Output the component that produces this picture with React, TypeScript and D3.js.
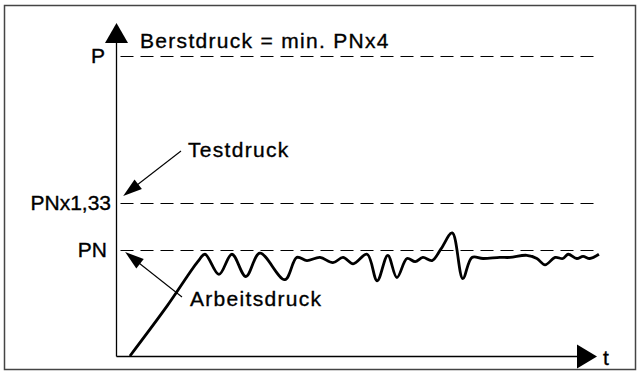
import * as d3 from 'd3';
import React from 'react';

// pressure levels (in multiples of PN)
const levelLabels = ['P', 'PNx1,33', 'PN'];
const levelValues = [4, 1.33, 1];

// pressure curve over time (t in % of the time axis, p in multiples of PN)
const timePoints = [
  2.9, 10.6, 17.0, 18.5, 21.4, 24.1, 27.0, 29.9, 35.1, 37.6, 39.7, 42.4, 45.1,
  47.2, 49.3, 52.2, 54.3, 56.5, 58.4, 60.5, 62.2, 63.8, 65.7, 67.6, 69.9, 72.1,
  74.0, 76.3, 79.8, 81.9, 85.4, 87.5, 89.2, 91.3, 92.9, 94.0, 95.8, 97.1, 98.5, 100.4,
];
const pressureValues = [
  0, 0.47, 0.89, 0.96, 0.77, 0.96, 0.75, 0.97, 0.72, 0.93, 0.9, 0.93, 0.88,
  0.93, 0.87, 0.96, 0.71, 0.95, 0.74, 0.92, 0.89, 0.93, 0.9, 1.01, 1.12, 0.73,
  0.93, 0.92, 0.93, 0.93, 0.95, 0.92, 0.86, 0.93, 0.92, 0.96, 0.92, 0.94, 0.92, 0.96,
];

const annotations = ['Berstdruck = min. PNx4', 'Testdruck', 'Arbeitsdruck'];

const W = 640;
const H = 371;
const font = '"Liberation Sans", Arial, Helvetica, sans-serif';

function arrowHead(x1: number, y1: number, x2: number, y2: number, len: number, half: number) {
  // triangle with tip at (x2,y2), pointing from (x1,y1)
  const a = Math.atan2(y2 - y1, x2 - x1);
  const bx = x2 - len * Math.cos(a);
  const by = y2 - len * Math.sin(a);
  const px = -Math.sin(a) * half;
  const py = Math.cos(a) * half;
  return `M${x2},${y2}L${bx + px},${by + py}L${bx - px},${by - py}Z`;
}

const textStyle = {
  fontFamily: font,
  fontSize: 21,
  fill: '#000',
  stroke: '#000',
  strokeWidth: 0.35,
};

export default function App() {
  const x = d3.scaleLinear().domain([0, 100]).range([116, 597]);
  // schematic axis: levels are not drawn to scale
  const y = d3.scaleLinear().domain([0, 1, 1.33, 4]).range([356, 250, 203, 56]);

  const data = timePoints.map((t, i) => ({ t, p: pressureValues[i] }));
  const line = d3
    .line<{ t: number; p: number }>()
    .x((d) => x(d.t))
    .y((d) => y(d.p))
    .curve(d3.curveCatmullRom.alpha(0.5));

  const x0 = x(0) + 0.5;
  const y0 = y(0) + 0.5;
  const xEnd = x(100);

  // annotation arrows
  const testFrom = [181, 151];
  const testTip = [x(1.5), y(1.33) - 7];
  const workFrom = [182, 297];
  const workTip = [x(1.9), y(1) + 2];

  const labelEnd = [105, 111, 107];

  return (
    <svg width={W} height={H} style={{ position: 'absolute', left: 0, top: 0, background: '#fff' }}>
      <rect x={4.5} y={5.5} width={631} height={364} fill="#fff" stroke="#444" strokeWidth={1.5} />

      {levelValues.map((v, i) => (
        <g key={levelLabels[i]}>
          <line
            x1={x0 + 4}
            x2={xEnd}
            y1={Math.round(y(v)) + 0.5}
            y2={Math.round(y(v)) + 0.5}
            stroke="#000"
            strokeWidth={1.1}
            strokeDasharray="13,7"
          />
          <text x={labelEnd[i]} y={y(v) + 7} textAnchor="end" style={textStyle}>
            {levelLabels[i]}
          </text>
        </g>
      ))}

      {/* axes */}
      <line x1={x0} x2={x0} y1={y0} y2={36} stroke="#000" strokeWidth={1.3} />
      <path d={`M${x0},23L${x0 + 11.5},43L${x0 - 11.5},43Z`} fill="#000" />
      <line x1={x0} x2={xEnd - 15} y1={y0} y2={y0} stroke="#000" strokeWidth={1.3} />
      <path d={`M${xEnd},${y0}L${xEnd - 20},${y0 - 12}L${xEnd - 20},${y0 + 12}Z`} fill="#000" />
      <text x={603} y={365} style={textStyle}>
        t
      </text>

      {/* pressure curve */}
      <path d={line(data) || ''} fill="none" stroke="#000" strokeWidth={2.8} strokeLinejoin="round" />

      {/* annotations */}
      <text x={140} y={48} letterSpacing={1.3} style={textStyle}>
        {annotations[0]}
      </text>
      <text x={188} y={157} letterSpacing={1.3} style={textStyle}>
        {annotations[1]}
      </text>
      <text x={190} y={306} letterSpacing={1.3} style={textStyle}>
        {annotations[2]}
      </text>
      <line x1={testFrom[0]} y1={testFrom[1]} x2={testTip[0] + 10} y2={testTip[1] - 8} stroke="#000" strokeWidth={1.1} />
      <path d={arrowHead(testFrom[0], testFrom[1], testTip[0], testTip[1], 19, 6)} fill="#000" />
      <line x1={workFrom[0]} y1={workFrom[1]} x2={workTip[0] + 10} y2={workTip[1] + 8} stroke="#000" strokeWidth={1.1} />
      <path d={arrowHead(workFrom[0], workFrom[1], workTip[0], workTip[1], 19, 6)} fill="#000" />
    </svg>
  );
}
